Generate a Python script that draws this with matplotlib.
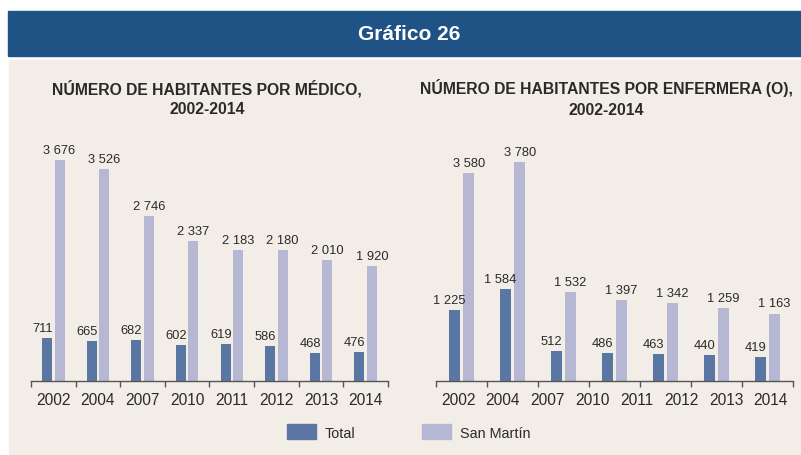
import numpy as np
import matplotlib
matplotlib.use('Agg')
import matplotlib.pyplot as plt
from matplotlib.patches import Rectangle, Patch

plt.rcParams['font.family'] = ['Liberation Sans', 'DejaVu Sans']

# datos
years_med = ['2002', '2004', '2007', '2010', '2011', '2012', '2013', '2014']
med_total = [711, 665, 682, 602, 619, 586, 468, 476]
med_sm = [3676, 3526, 2746, 2337, 2183, 2180, 2010, 1920]

years_enf = ['2002', '2004', '2007', '2010', '2011', '2012', '2013', '2014']
enf_total = [1225, 1584, 512, 486, 463, 440, 419]
enf_sm = [3580, 3780, 1532, 1397, 1342, 1259, 1163]

c_total = '#5a77a4'
c_sm = '#b5b7d3'
bg = '#f2eee7'
blue = '#1f5285'
txt = '#2a2a2a'

W, H = 801, 456
fig = plt.figure(figsize=(W / 100, H / 100), dpi=100)
fig.patch.set_facecolor('white')

# banda azul y fondo beige
fig.patches.append(Rectangle((8 / W, 1 - 57 / H), 1 - 8 / W, 45 / H,
                             transform=fig.transFigure, color=blue, zorder=-5))
fig.patches.append(Rectangle((9 / W, 0), 1 - 9 / W, 1 - 61 / H,
                             transform=fig.transFigure, color=bg, zorder=-5))
fig.text(409 / W, 1 - 35 / H, 'Gráfico 26', color='white', fontsize=15,
         fontweight='bold', ha='center', va='center')


def fmt(v):
    return f'{v:,}'.replace(',', ' ')


def panel(left_px, scale, title, title_x, labels, tot, sm):
    n = len(tot)
    height_px = 4000 * scale
    ax = fig.add_axes([left_px / W, (H - 382) / H, 357 / W, height_px / H])
    ax.set_facecolor('none')
    x = np.arange(n)
    w = 0.225
    ax.bar(x - 0.14, tot, w, color=c_total)
    ax.bar(x + 0.14, sm, w, color=c_sm)
    for xi, v in zip(x, tot):
        ax.annotate(fmt(v), (xi - 0.14, v), xytext=(-3.5, 3), textcoords='offset points',
                    ha='center', va='bottom', fontsize=9.3, color=txt)
    for xi, v in zip(x, sm):
        ax.annotate(fmt(v), (xi + 0.14, v), xytext=(0, 3), textcoords='offset points',
                    ha='center', va='bottom', fontsize=9.3, color=txt)
    ax.set_xlim(-0.5, n - 0.5)
    ax.set_ylim(0, 4000)
    for s in ['top', 'right', 'left']:
        ax.spines[s].set_visible(False)
    ax.spines['bottom'].set_color('#555555')
    ax.spines['bottom'].set_linewidth(1.0)
    ax.set_yticks([])
    ax.set_xticks(np.arange(n + 1) - 0.5)
    ax.set_xticklabels([])
    ax.tick_params(axis='x', which='major', direction='out', length=4,
                   color='#555555', width=1.0)
    k = len(labels)
    pos = -0.5 + (np.arange(k) + 0.5) * n / k
    ax.set_xticks(pos, minor=True)
    ax.set_xticklabels(labels, minor=True, fontsize=11.2, color=txt)
    ax.tick_params(axis='x', which='minor', length=0, pad=8)
    fig.text(title_x / W, 1 - 98.5 / H, title, ha='center', va='center',
             fontsize=11.3, fontweight='bold', color=txt, linespacing=1.45)
    return ax


panel(31, 0.06, 'NÚMERO DE HABITANTES POR MÉDICO,\n2002-2014', 207,
      years_med, med_total, med_sm)
panel(436, 0.058, 'NÚMERO DE HABITANTES POR ENFERMERA (O),\n2002-2014', 606,
      years_enf, enf_total, enf_sm)

handles = [Patch(color=c_total, label='Total'), Patch(color=c_sm, label='San Martín')]
fig.legend(handles=handles, loc='center left', bbox_to_anchor=(287 / W, 1 - 433 / H),
           ncol=2, frameon=False, fontsize=10.4, handlelength=2.0, handleheight=1.18,
           handletextpad=0.62, columnspacing=4.6, borderpad=0, borderaxespad=0,
           labelcolor=txt)

fig.savefig('out.png', dpi=100, facecolor=fig.get_facecolor())
